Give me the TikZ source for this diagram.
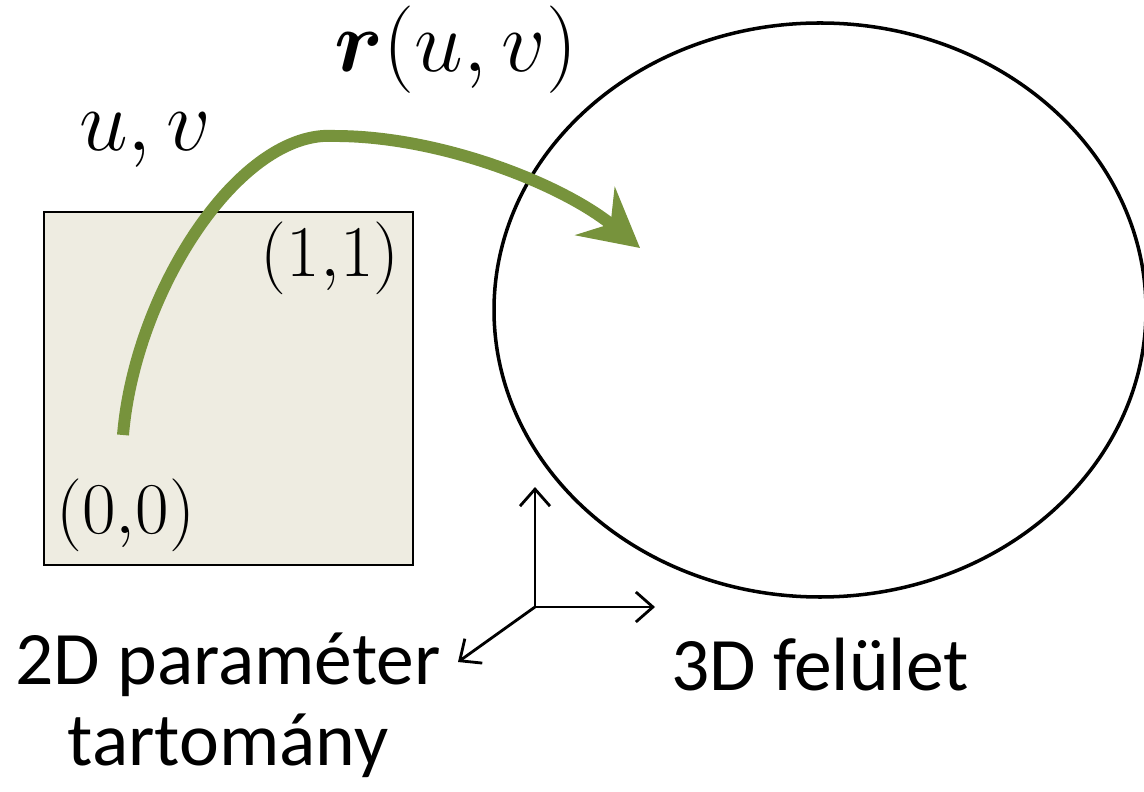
\documentclass[tikz,border=0pt]{standalone}
\usepackage[no-math]{fontspec}
\setmainfont{Carlito}
\usepackage{bm}
\usetikzlibrary{arrows.meta}
\definecolor{leafgreen}{RGB}{119,147,60}
\definecolor{paper}{RGB}{238,236,225}
\begin{document}
\begin{tikzpicture}
  \useasboundingbox (0,0) rectangle (11.44,7.91);
  % parameter square and surface
  \draw[line width=0.8pt,fill=paper] (0.44,2.26) rectangle (4.13,5.79);
  \draw[line width=1pt] (8.20,4.81) ellipse [x radius=3.26,y radius=2.87];
  \coordinate (S) at (1.23,3.56);
  \coordinate (T) at (3.35,6.55);
  \coordinate (E) at (6.40,5.43);
  \draw[leafgreen,line width=3.4pt,-{Stealth[length=0.58cm,width=0.62cm,inset=0.2cm]}]
    (S) .. controls (1.35,5.0) and (2.4,6.62) .. (T)
        .. controls (4.4,6.55) and (5.62,6.07) .. (E);
  % axes
  \coordinate (O) at (5.35,1.84);
  \coordinate (X) at (6.55,1.84);
  \coordinate (Y) at (5.35,3.04);
  \coordinate (Z) at (4.58,1.29);
  \draw[line width=0.8pt,-{Straight Barb[length=0.17cm,width=0.3cm]}] (O) -- (X);
  \draw[line width=0.8pt,-{Straight Barb[length=0.17cm,width=0.3cm]}] (O) -- (Y);
  \draw[line width=0.8pt,-{Straight Barb[length=0.17cm,width=0.3cm]}] (O) -- (Z);
  % labels
  \node (map) at (4.56,7.41) {\fontsize{25}{30}\selectfont $\bm{r}(u,v)$};
  \node (uv) at (1.45,6.51) {\fontsize{25}{30}\selectfont $u,v$};
  \node[anchor=east,inner sep=0pt] (one) at (4.00,5.33) {\fontsize{22.5}{27}\selectfont $(1{,}1)$};
  \node[anchor=west,inner sep=0pt] (zero) at (0.56,2.76) {\fontsize{22.5}{27}\selectfont $(0{,}0)$};
  \node[align=center,font=\fontsize{21.5}{23}\selectfont] (dom) at (2.28,0.86) {2D paraméter\\tartomány};
  \node[font=\fontsize{21.5}{23}\selectfont] (surf) at (8.20,1.26) {3D felület};
\end{tikzpicture}
\end{document}
